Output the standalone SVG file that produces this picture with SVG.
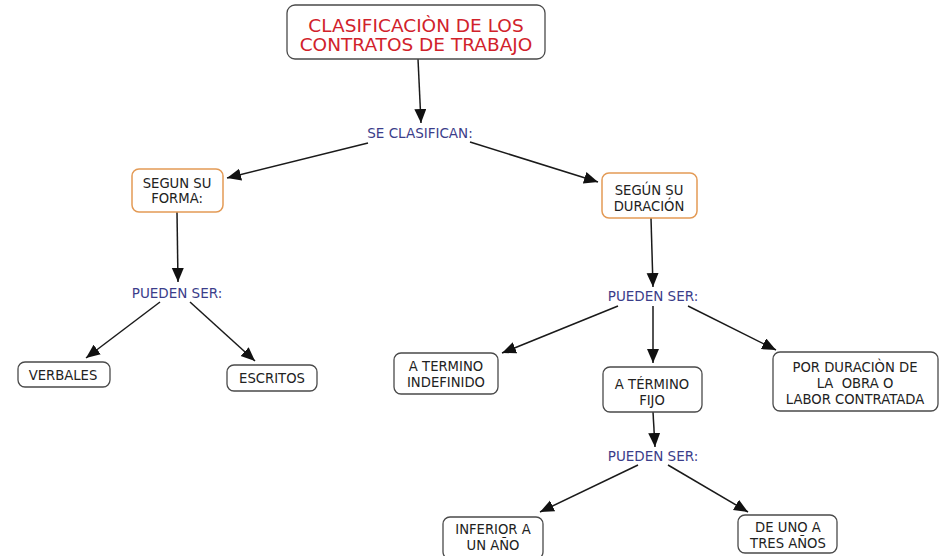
<svg xmlns="http://www.w3.org/2000/svg" width="946" height="556" viewBox="0 0 946 556">
<defs>
<marker id="ah" markerUnits="userSpaceOnUse" markerWidth="15" markerHeight="13" refX="14" refY="6" orient="auto">
<path d="M0,0 L14,6 L0,12 z" fill="#111"/>
</marker>
<style>
.t{font-family:"DejaVu Sans",Verdana,sans-serif;font-size:13.2px;fill:#222;text-anchor:middle;white-space:pre}
.title{font-family:"DejaVu Sans",Verdana,sans-serif;font-size:18.5px;fill:#d1222b;text-anchor:middle}
.lbl{font-family:"DejaVu Sans",Verdana,sans-serif;font-size:13.5px;fill:#3b3d8a;text-anchor:middle}
.box{fill:#fff;stroke:#4a4a4a;stroke-width:1.3}
.obox{fill:#fff;stroke:#e39a55;stroke-width:1.5}
.c{stroke:#1a1a1a;stroke-width:1.5;fill:none;marker-end:url(#ah)}
</style>
</defs>
<rect width="946" height="556" fill="#fff"/>
<g id="connectors">
<line class="c" x1="418" y1="59" x2="421" y2="123"/>
<line class="c" x1="368" y1="143" x2="227" y2="178"/>
<line class="c" x1="470" y1="142" x2="598" y2="182"/>
<line class="c" x1="177" y1="212" x2="178" y2="282"/>
<line class="c" x1="160" y1="302" x2="86" y2="358"/>
<line class="c" x1="190" y1="302" x2="255" y2="361"/>
<line class="c" x1="651" y1="218" x2="653" y2="287"/>
<line class="c" x1="618" y1="306" x2="502" y2="353"/>
<line class="c" x1="653" y1="306" x2="653" y2="363"/>
<line class="c" x1="688" y1="306" x2="776" y2="350"/>
<line class="c" x1="653" y1="412" x2="655" y2="447"/>
<line class="c" x1="638" y1="465" x2="540" y2="512"/>
<line class="c" x1="668" y1="465" x2="748" y2="512"/>
</g>
<g id="title">
<rect class="box" x="287" y="5" width="258" height="54" rx="8"/>
<text class="title" x="416" y="32">CLASIFICACIÒN DE LOS</text>
<text class="title" x="416" y="51">CONTRATOS DE TRABAJO</text>
</g>
<g id="se-clasifican"><text class="lbl" x="420" y="138">SE CLASIFICAN:</text></g>
<g id="segun-forma">
<rect class="obox" x="132" y="169" width="91" height="43" rx="7"/>
<text class="t" x="177" y="188">SEGUN SU</text>
<text class="t" x="177" y="203">FORMA:</text>
</g>
<g id="segun-duracion">
<rect class="obox" x="602" y="173" width="95" height="45" rx="7"/>
<text class="t" x="649" y="195">SEGÚN SU</text>
<text class="t" x="649" y="211">DURACIÓN</text>
</g>
<g id="pueden-forma"><text class="lbl" x="177" y="298">PUEDEN SER:</text></g>
<g id="verbales">
<rect class="box" x="18" y="362" width="92" height="25" rx="7"/>
<text class="t" x="63" y="380">VERBALES</text>
</g>
<g id="escritos">
<rect class="box" x="227" y="365" width="90" height="26" rx="7"/>
<text class="t" x="272" y="383">ESCRITOS</text>
</g>
<g id="pueden-duracion"><text class="lbl" x="653" y="301">PUEDEN SER:</text></g>
<g id="indefinido">
<rect class="box" x="394" y="353" width="104" height="41" rx="7"/>
<text class="t" x="446" y="371">A TERMINO</text>
<text class="t" x="446" y="387">INDEFINIDO</text>
</g>
<g id="fijo">
<rect class="box" x="603" y="367" width="99" height="45" rx="7"/>
<text class="t" x="652" y="389">A TÉRMINO</text>
<text class="t" x="652" y="405">FIJO</text>
</g>
<g id="obra">
<rect class="box" x="773" y="352" width="165" height="59" rx="7"/>
<text class="t" x="855" y="372">POR DURACIÒN DE</text>
<text class="t" x="855" y="388" xml:space="preserve">LA  OBRA O</text>
<text class="t" x="855" y="404">LABOR CONTRATADA</text>
</g>
<g id="pueden-fijo"><text class="lbl" x="653" y="461">PUEDEN SER:</text></g>
<g id="inferior">
<rect class="box" x="443" y="517" width="100" height="42" rx="7"/>
<text class="t" x="493" y="534">INFERIOR A</text>
<text class="t" x="493" y="550">UN AÑO</text>
</g>
<g id="uno-tres">
<rect class="box" x="738" y="515" width="99" height="38" rx="7"/>
<text class="t" x="788" y="532">DE UNO A</text>
<text class="t" x="788" y="548">TRES AÑOS</text>
</g>
</svg>
